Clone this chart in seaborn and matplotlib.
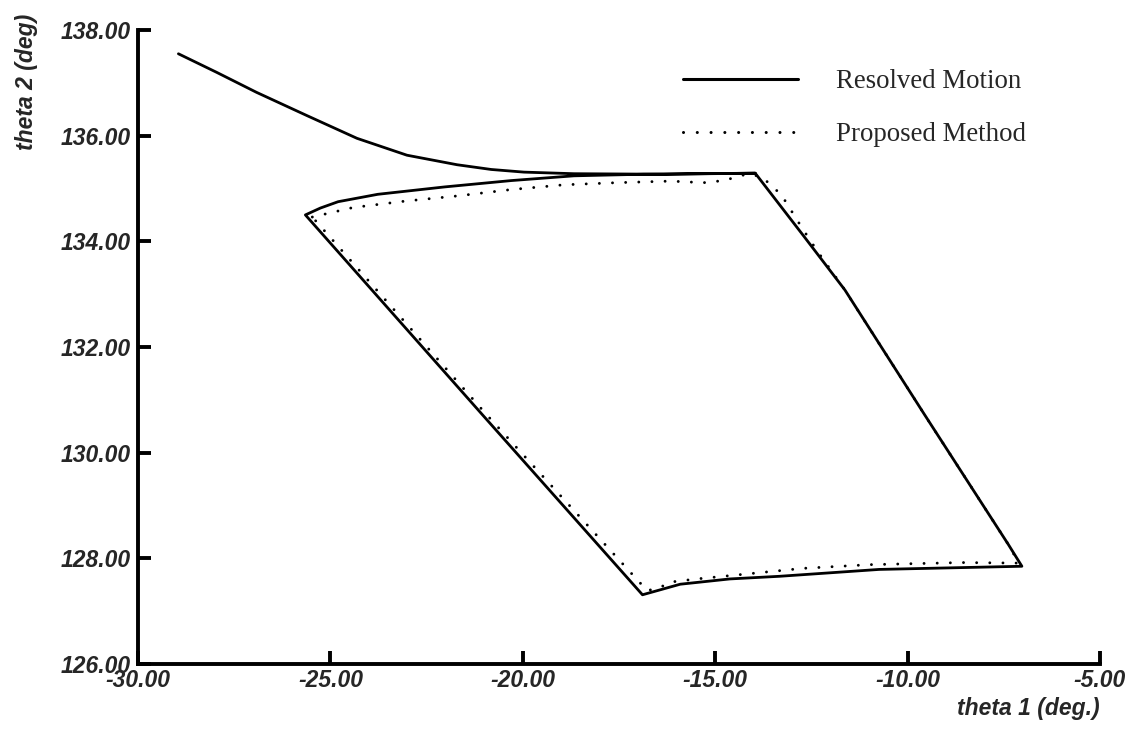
import matplotlib
matplotlib.use("Agg")
import matplotlib.pyplot as plt
import seaborn as sns
import pandas as pd

# ---- data ----
resolved_theta1 = [-28.95, -27.96, -26.92, -25.61, -24.31, -23.01, -21.71, -20.82,
                   -19.97, -18.67, -16.34, -13.96,
                   -12.70, -11.63, -9.56, -7.38, -7.03,
                   -10.74, -13.33, -14.62, -15.91, -16.89,
                   -21.04, -25.65,
                   -25.26, -24.80, -23.77, -22.03, -20.30, -18.67, -16.86, -13.96]
resolved_theta2 = [137.55, 137.20, 136.82, 136.38, 135.95, 135.63, 135.45, 135.36,
                   135.31, 135.28, 135.27, 135.29,
                   134.10, 133.08, 130.72, 128.26, 127.85,
                   127.79, 127.66, 127.61, 127.51, 127.31,
                   130.71, 134.50,
                   134.63, 134.75, 134.89, 135.03, 135.15, 135.24, 135.27, 135.29]

proposed_theta1 = [-25.47, -24.41, -23.07, -21.69, -20.30, -18.93, -17.56, -16.16,
                   -15.30, -14.78, -14.19, -13.80, -13.28, -12.74, -12.37,
                   -11.63, -9.56, -7.38, -7.11,
                   -8.59, -11.00, -12.73, -14.10, -15.48, -16.17, -16.48, -16.77,
                   -20.93, -25.47]
proposed_theta2 = [134.46, 134.64, 134.76, 134.86, 134.98, 135.07, 135.11, 135.14,
                   135.11, 135.15, 135.27, 135.23, 134.88, 134.25, 133.84,
                   133.08, 130.72, 128.26, 127.91,
                   127.92, 127.88, 127.81, 127.71, 127.61, 127.55, 127.43, 127.39,
                   130.71, 134.46]

x_ticks = [-30, -25, -20, -15, -10, -5]
y_ticks = [126, 128, 130, 132, 134, 136, 138]
x_ticklabels = ["-30.00", "-25.00", "-20.00", "-15.00", "-10.00", "-5.00"]
y_ticklabels = ["126.00", "128.00", "130.00", "132.00", "134.00", "136.00", "138.00"]

series_labels = ["Resolved Motion", "Proposed Method"]

# ---- style ----
sns.set_style("ticks")
plt.rcParams["font.family"] = ["Liberation Sans", "DejaVu Sans"]

W, H = 1135, 740
fig = plt.figure(figsize=(W / 100, H / 100), dpi=100)
left, right, top, bottom = 138, 1100, 30, 664
ax = fig.add_axes([left / W, 1 - bottom / H, (right - left) / W, (bottom - top) / H])

df_res = pd.DataFrame({"theta1": resolved_theta1, "theta2": resolved_theta2})
df_pro = pd.DataFrame({"theta1": proposed_theta1, "theta2": proposed_theta2})

sns.lineplot(data=df_res, x="theta1", y="theta2", sort=False, estimator=None,
             color="black", linewidth=2.0, label=series_labels[0], ax=ax)
sns.lineplot(data=df_pro, x="theta1", y="theta2", sort=False, estimator=None,
             color="black", linewidth=2.1, linestyle=(0, (0.01, 4.5)),
             dash_capstyle="round", label=series_labels[1], ax=ax)

ax.set_xlim(-30, -5)
ax.set_ylim(126, 138)
ax.set_xticks(x_ticks)
ax.set_yticks(y_ticks)
tick_font = dict(family="Liberation Sans", weight="bold", style="italic", size=16.5)
ax.set_xticklabels(x_ticklabels, fontdict=tick_font)
ax.set_yticklabels(y_ticklabels, fontdict=tick_font)

for side in ["top", "right"]:
    ax.spines[side].set_visible(False)
for side in ["left", "bottom"]:
    ax.spines[side].set_linewidth(2.8)
    ax.spines[side].set_color("black")

ax.tick_params(axis="both", direction="in", length=9.5, width=2.8, color="black")
ax.tick_params(axis="x", pad=3.5)
ax.tick_params(axis="y", pad=5)

label_font = dict(family="Liberation Sans", weight="bold", style="italic", size=16.5)
ax.set_xlabel("theta 1 (deg.)", fontdict=label_font, ha="right")
ax.xaxis.set_label_coords(1.0, -0.052)
ax.set_ylabel("theta 2 (deg)", fontdict=label_font)
ax.yaxis.set_label_coords(-0.104, 0.918)

leg = ax.legend(loc="upper left", bbox_to_anchor=(683 / W, 1 - 69 / H),
                bbox_transform=fig.transFigure, frameon=False,
                prop=dict(family="Liberation Serif", size=19.4),
                handlelength=4.27, handletextpad=1.41, labelspacing=1.05,
                borderpad=0, borderaxespad=0)
for line in leg.get_lines():
    line.set_linewidth(2.2)

fig.savefig("out.png", dpi=100, facecolor="white")
